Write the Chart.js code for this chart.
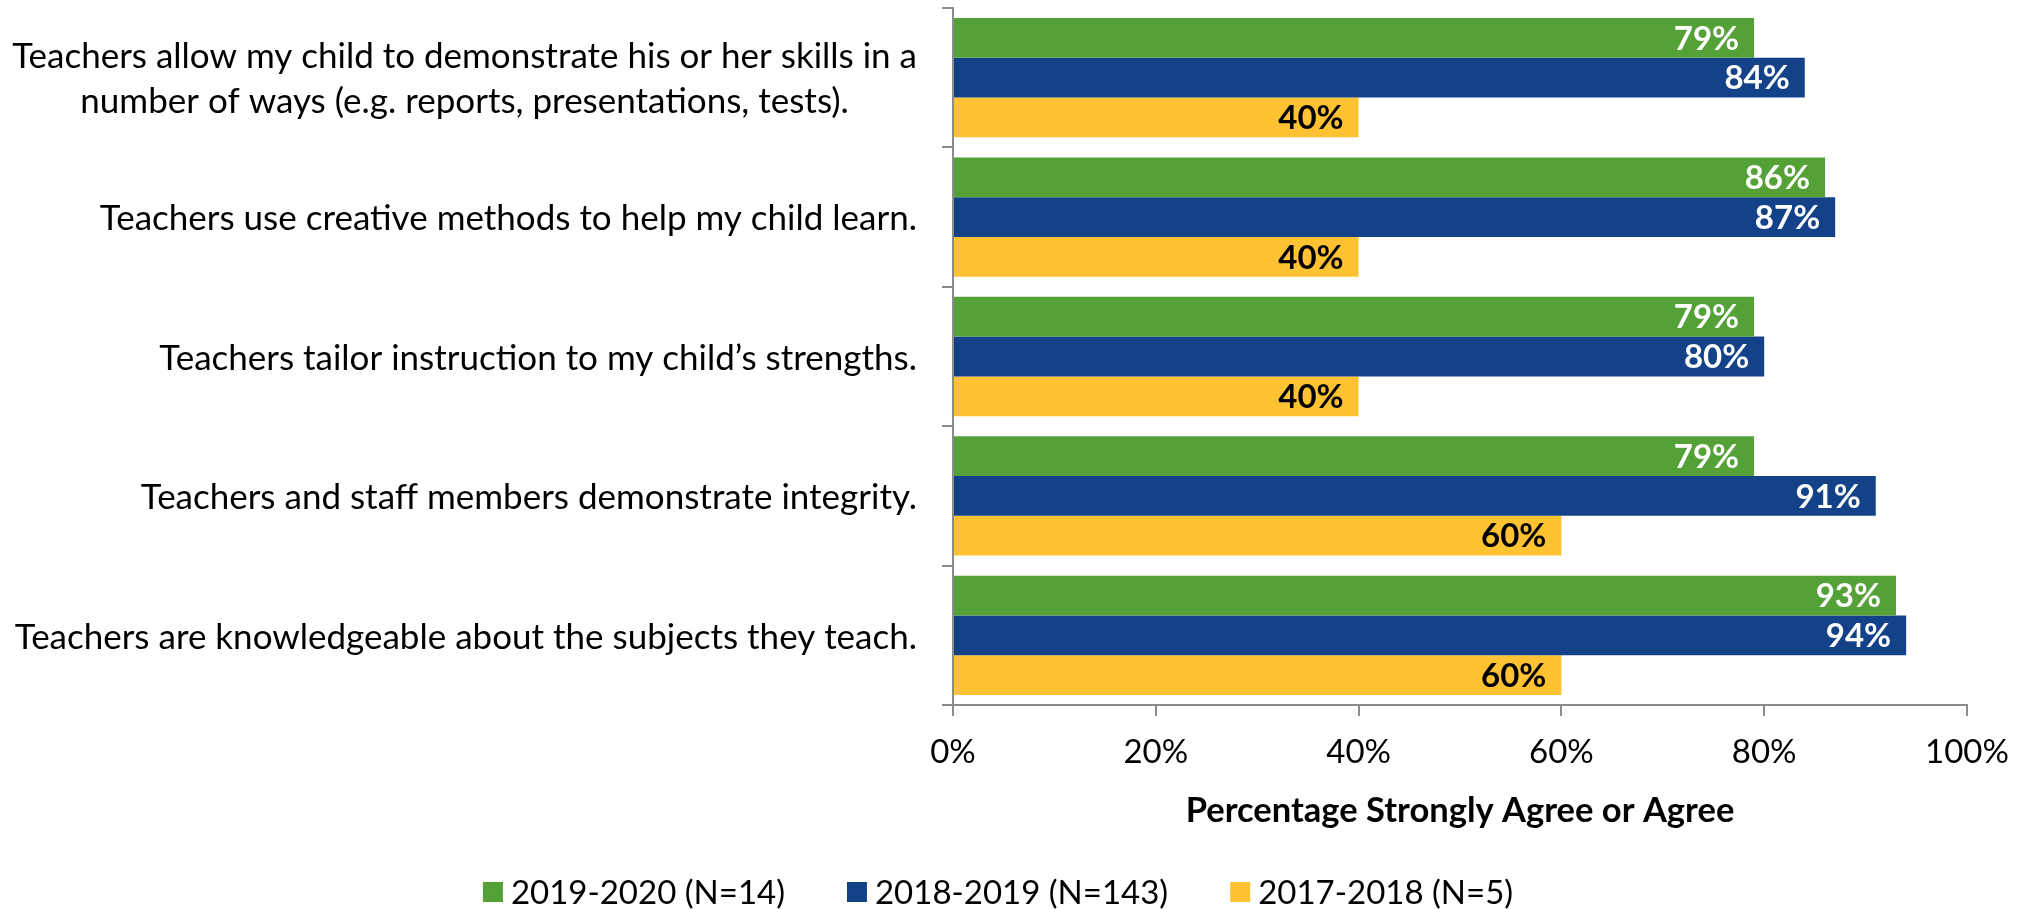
<!DOCTYPE html>
<html><head><meta charset="utf-8">
<script src="https://cdn.jsdelivr.net/npm/chart.js@4/dist/chart.umd.min.js"></script>
<style>html,body{margin:0;padding:0;background:#fff;}</style>
</head><body>
<canvas id="c" width="2028" height="909" style="display:block;width:2028px;height:909px"></canvas>
<script>
const categories = [
  ["Teachers allow my child to demonstrate his or her skills in a", "number of ways (e.g. reports, presentations, tests)."],
  "Teachers use creative methods to help my child learn.",
  "Teachers tailor instruction to my child\u2019s strengths.",
  "Teachers and staff members demonstrate integrity.",
  "Teachers are knowledgeable about the subjects they teach."
];
const seriesNames = ["2019-2020 (N=14)", "2018-2019 (N=143)", "2017-2018 (N=5)"];
const values2019_2020 = [79, 86, 79, 79, 93];
const values2018_2019 = [84, 87, 80, 91, 94];
const values2017_2018 = [40, 40, 40, 60, 60];
const xTickValues = [0, 20, 40, 60, 80, 100];
const xAxisTitle = "Percentage Strongly Agree or Agree";

const COLORS = ['#54A138', '#134289', '#FFC232'];
const LABEL_COLORS = ['#FFFFFF', '#FFFFFF', '#000000'];
const FONT = 'Lato, "Open Sans", sans-serif';
const GRAY = '#8C8C8C';

const yLabelPlugin = {
  id: 'yLabels',
  afterDraw(chart) {
    const ctx = chart.ctx, ys = chart.scales.y;
    const right = chart.chartArea.left - 36;
    ctx.save();
    ctx.font = '35px ' + FONT;
    ctx.fillStyle = '#000';
    ctx.textAlign = 'center';
    ctx.textBaseline = 'middle';
    chart.data.labels.forEach((lab, i) => {
      const lines = Array.isArray(lab) ? lab : [lab];
      const w = Math.max(...lines.map(l => ctx.measureText(l).width));
      const cx = right - w / 2;
      const yc = ys.getPixelForValue(i);
      lines.forEach((l, j) => ctx.fillText(l, cx, yc + 2 + (j - (lines.length - 1) / 2) * 45));
    });
    ctx.restore();
  }
};

const valueLabelPlugin = {
  id: 'valueLabels',
  afterDatasetsDraw(chart) {
    const ctx = chart.ctx;
    ctx.save();
    ctx.font = 'bold 33px ' + FONT;
    ctx.textAlign = 'right';
    ctx.textBaseline = 'middle';
    chart.data.datasets.forEach((ds, di) => {
      const meta = chart.getDatasetMeta(di);
      ctx.fillStyle = LABEL_COLORS[di];
      meta.data.forEach((el, i) => {
        ctx.fillText(ds.data[i] + '%', el.x - 15, el.y + 1);
      });
    });
    ctx.restore();
  }
};

const legendPlugin = {
  id: 'customLegend',
  afterDraw(chart) {
    const ctx = chart.ctx;
    ctx.save();
    ctx.font = '33px ' + FONT;
    ctx.textBaseline = 'middle';
    ctx.textAlign = 'left';
    const box = 20, gap = 8, itemGap = 62;
    const items = chart.data.datasets.map(ds => ({ text: ds.label, color: ds.backgroundColor, w: box + gap + ctx.measureText(ds.label).width }));
    const total = items.reduce((s, it) => s + it.w, 0) + itemGap * (items.length - 1);
    let x = 998 - total / 2;
    const y = 892;
    items.forEach(it => {
      ctx.fillStyle = it.color;
      ctx.fillRect(x, y - box / 2, box, box);
      ctx.fillStyle = '#000';
      ctx.fillText(it.text, x + box + gap, y + 1);
      x += it.w + itemGap;
    });
    ctx.restore();
  }
};

new Chart(document.getElementById('c'), {
  type: 'bar',
  data: {
    labels: categories,
    datasets: [
      { label: seriesNames[0], data: values2019_2020, backgroundColor: COLORS[0] },
      { label: seriesNames[1], data: values2018_2019, backgroundColor: COLORS[1] },
      { label: seriesNames[2], data: values2017_2018, backgroundColor: COLORS[2] }
    ]
  },
  options: {
    indexAxis: 'y',
    responsive: false,
    animation: false,
    devicePixelRatio: 1,
    barPercentage: 1,
    categoryPercentage: 0.856,
    layout: { padding: { left: 0, right: 61, top: 8, bottom: 74 } },
    plugins: { legend: { display: false }, tooltip: { enabled: false } },
    scales: {
      y: {
        type: 'category',
        afterFit(s) { s.width = 953; },
        ticks: { display: false },
        grid: { offset: true, drawOnChartArea: false, drawTicks: true, tickLength: 11, color: GRAY, lineWidth: 2 },
        border: { display: true, color: GRAY, width: 2 }
      },
      x: {
        min: 0, max: 100,
        afterFit(s) { s.height = 130; },
        afterBuildTicks(s) { s.ticks = xTickValues.map(v => ({ value: v })); },
        ticks: { callback: v => v + '%', font: { family: FONT, size: 33 }, color: '#000', padding: 17, maxRotation: 0 },
        grid: { drawOnChartArea: false, drawTicks: true, tickLength: 11, color: GRAY, lineWidth: 2 },
        border: { display: true, color: GRAY, width: 2 },
        title: { display: true, text: xAxisTitle, font: { family: FONT, size: 34.5, weight: 'bold' }, color: '#000', padding: { top: 0, bottom: 3 } }
      }
    }
  },
  plugins: [yLabelPlugin, valueLabelPlugin, legendPlugin]
});
</script>
</body></html>
